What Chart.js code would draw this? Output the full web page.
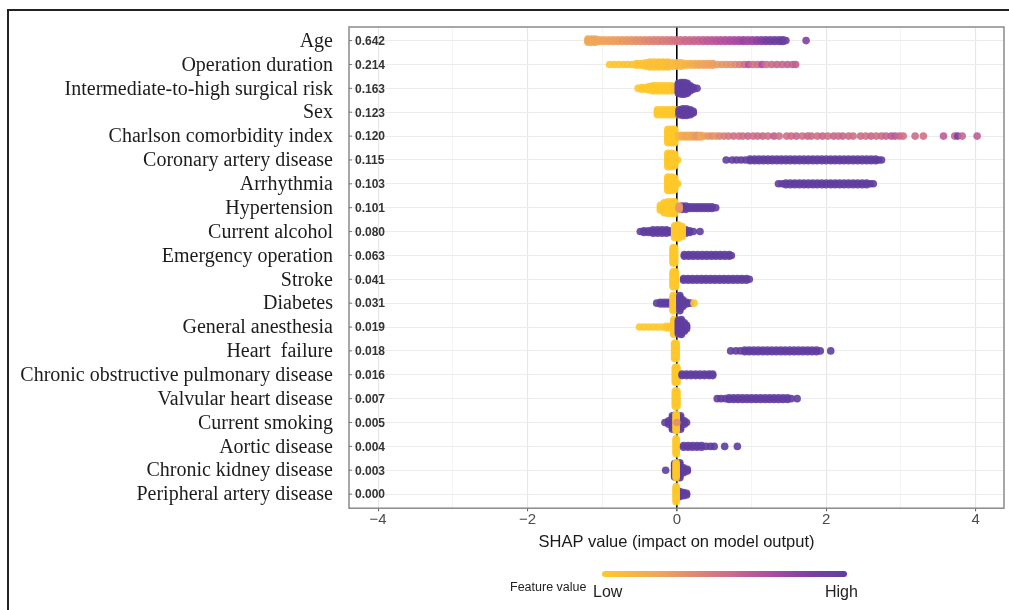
<!DOCTYPE html>
<html><head><meta charset="utf-8">
<script src="https://cdn.jsdelivr.net/npm/chart.js@4.4.1/dist/chart.umd.min.js"></script>
<style>
html,body{margin:0;padding:0;background:#fff;overflow:hidden}
#wrap{position:relative;width:1009px;height:610px;overflow:hidden}
#frame{position:absolute;left:7px;top:9px;width:1100px;height:700px;border-left:2px solid #222;border-top:2px solid #222;box-sizing:border-box}
canvas{position:absolute;left:0;top:0}
</style></head><body>
<div id="wrap"><div id="frame"></div><canvas id="c" width="1009" height="610" style="width:1009px;height:610px"></canvas></div>
<script>
// ---------- data ----------
const features = ["Age","Operation duration","Intermediate-to-high surgical risk","Sex","Charlson comorbidity index","Coronary artery disease","Arrhythmia","Hypertension","Current alcohol","Emergency operation","Stroke","Diabetes","General anesthesia","Heart  failure","Chronic obstructive pulmonary disease","Valvular heart disease","Current smoking","Aortic disease","Chronic kidney disease","Peripheral artery disease"];
const importance = ["0.642","0.214","0.163","0.123","0.120","0.115","0.103","0.101","0.080","0.063","0.041","0.031","0.019","0.018","0.016","0.007","0.005","0.004","0.003","0.000"];
const xTickValues = [-4,-3,-2,-1,0,1,2,3,4];
const xTitle = "SHAP value (impact on model output)";
const legendTitle = "Feature value", legendLow = "Low", legendHigh = "High";

// each entry: [SHAP value, number of overlapping samples, feature value (0 low .. 1 high)]
const swarmAge = [[-1.19,3,.22],[-1.14,3,.22],[-1.09,3,.23],[-1.03,2,.23],[-0.97,2,.24],[-0.91,2,.25],[-0.85,2,.26],[-0.79,2,.27],[-0.73,2,.28],[-0.67,2,.30],[-0.61,2,.31],[-0.55,2,.33],[-0.49,2,.34],[-0.43,2,.36],[-0.37,2,.38],[-0.31,2,.40],[-0.25,2,.41],[-0.19,2,.43],[-0.13,2,.44],[-0.07,2,.46],[-0.01,2,.48],[0.05,2,.50],[0.11,2,.52],[0.17,2,.53],[0.23,2,.55],[0.29,2,.56],[0.35,2,.58],[0.41,2,.60],[0.47,2,.61],[0.53,2,.63],[0.59,2,.65],[0.65,2,.66],[0.71,2,.68],[0.77,2,.70],[0.83,2,.72],[0.89,2,.78],[0.95,2,.74],[1.01,2,.76],[1.07,2,.80],[1.13,2,.84],[1.19,2,.90],[1.25,2,.93],[1.31,2,.95],[1.37,2,.96],[1.42,2,.97],[1.46,1,.95],[1.73,1,.85]];
const swarmOperation = [[-0.90,1,.02],[-0.84,1,.02],[-0.78,1,.02],[-0.72,1,.03],[-0.66,1,.03],[-0.60,1,.03],[-0.54,2,.03],[-0.48,2,.04],[-0.42,3,.04],[-0.36,4,.05],[-0.30,4,.05],[-0.24,4,.06],[-0.18,4,.06],[-0.12,4,.07],[-0.06,3,.08],[0.00,3,.09],[0.06,3,.11],[0.12,2,.13],[0.18,2,.16],[0.24,2,.19],[0.30,2,.22],[0.36,2,.24],[0.42,2,.25],[0.48,2,.27],[0.54,1,.28],[0.60,1,.30],[0.66,1,.31],[0.72,1,.33],[0.78,1,.36],[0.84,1,.42],[0.90,1,.50],[0.96,1,.66],[1.02,1,.48],[1.08,1,.50],[1.14,1,.68],[1.20,1,.50],[1.27,1,.52],[1.34,1,.55],[1.41,1,.55],[1.48,1,.57],[1.55,1,.57],[1.59,1,.58]];
const swarmSurgicalRisk = [[-0.52,1,0],[-0.47,2,0],[-0.42,2,0],[-0.37,3,0],[-0.32,4,0],[-0.27,4,0],[-0.22,4,0],[-0.17,4,0],[-0.12,4,0],[-0.07,4,0],[-0.03,3,.05],[0.02,7,1],[0.06,8,1],[0.10,8,1],[0.14,7,1],[0.18,4,1],[0.22,2,1],[0.27,1,1]];
const swarmSex = [[-0.26,4,0],[-0.21,4,0],[-0.16,4,0],[-0.11,4,0],[-0.06,4,0],[-0.02,4,0],[0.03,4,1],[0.08,5,1],[0.13,5,1],[0.18,4,1],[0.22,2,1]];
const swarmCharlson = [[-0.12,9,0],[-0.07,9,0],[-0.03,9,0],[0.02,2,.10],[0.07,2,.18],[0.12,2,.22],[0.17,2,.20],[0.22,2,.25],[0.27,2,.30],[0.32,2,.22],[0.37,1,.25],[0.42,1,.30],[0.47,1,.35],[0.52,1,.30],[0.57,1,.38],[0.63,1,.42],[0.69,1,.45],[0.76,1,.50],[0.83,1,.47],[0.88,1,.50],[0.95,1,.55],[1.02,1,.50],[1.08,1,.52],[1.15,1,.55],[1.22,1,.50],[1.30,1,.60],[1.37,1,.50],[1.47,1,.50],[1.53,1,.52],[1.60,1,.55],[1.68,1,.50],[1.75,1,.55],[1.80,1,.52],[1.88,1,.50],[1.95,1,.55],[2.02,1,.50],[2.10,1,.55],[2.16,1,.50],[2.22,1,.55],[2.30,1,.52],[2.36,1,.50],[2.46,1,.52],[2.53,1,.50],[2.60,1,.55],[2.67,1,.50],[2.74,1,.52],[2.80,1,.55],[2.87,1,.60],[2.92,1,.62],[2.98,1,.55],[3.03,1,.50],[3.19,1,.52],[3.30,1,.50],[3.57,1,.60],[3.72,1,.55],[3.76,1,.85],[3.82,1,.55],[4.02,1,.60]];
const swarmCAD = [[-0.12,9,0],[-0.07,9,0],[-0.03,8,0],[0.01,1,0],[0.66,1,1],[0.74,1,1],[0.80,1,1],[0.86,1,1],[0.92,1,1],[0.98,2,1],[1.04,2,1],[1.10,2,1],[1.16,2,1],[1.22,2,1],[1.28,2,1],[1.34,2,1],[1.40,2,1],[1.46,2,1],[1.52,2,1],[1.58,2,1],[1.64,2,1],[1.70,2,1],[1.76,2,1],[1.82,2,1],[1.88,2,1],[1.94,2,1],[2.00,2,1],[2.06,2,1],[2.12,2,1],[2.18,2,1],[2.24,2,1],[2.30,2,1],[2.36,2,1],[2.42,2,1],[2.48,2,1],[2.54,2,1],[2.60,2,1],[2.66,2,1],[2.70,1,1],[2.74,1,1]];
const swarmArrhythmia = [[-0.12,9,0],[-0.07,9,0],[-0.03,8,0],[0.01,1,0],[1.36,1,1],[1.41,1,1],[1.46,2,1],[1.52,2,1],[1.58,2,1],[1.64,2,1],[1.70,2,1],[1.76,2,1],[1.82,2,1],[1.88,2,1],[1.94,2,1],[2.00,2,1],[2.06,2,1],[2.12,2,1],[2.18,2,1],[2.24,2,1],[2.30,2,1],[2.36,2,1],[2.42,2,1],[2.48,2,1],[2.54,2,1],[2.59,1,1],[2.63,1,1]];
const swarmHypertension = [[-0.22,4,0],[-0.17,7,0],[-0.12,8,0],[-0.07,8,0],[-0.03,8,0],[0.07,3,1],[0.12,3,1],[0.17,2,1],[0.22,2,1],[0.27,2,1],[0.32,2,1],[0.37,2,1],[0.42,2,1],[0.47,2,1],[0.52,1,1],[0.03,3,.30]];
const swarmAlcohol = [[-0.49,1,1],[-0.44,2,1],[-0.38,2,1],[-0.32,3,1],[-0.26,3,1],[-0.20,3,1],[-0.14,3,1],[-0.09,2,1],[0.12,3,1],[0.17,2,1],[0.22,1,1],[0.31,1,1],[-0.03,8,0],[0.02,9,0],[0.07,7,0]];
const swarmEmergency = [[-0.05,10,0],[-0.03,10,0],[0.10,2,1],[0.16,2,1],[0.22,2,1],[0.28,2,1],[0.34,2,1],[0.40,2,1],[0.46,2,1],[0.52,2,1],[0.58,2,1],[0.64,2,1],[0.70,2,1],[0.73,1,1]];
const swarmStroke = [[-0.05,10,0],[-0.02,10,0],[0.09,2,1],[0.15,2,1],[0.21,2,1],[0.27,2,1],[0.33,2,1],[0.39,2,1],[0.45,2,1],[0.51,2,1],[0.57,2,1],[0.63,2,1],[0.69,2,1],[0.75,2,1],[0.81,2,1],[0.87,2,1],[0.93,2,1],[0.97,1,1]];
const swarmDiabetes = [[-0.27,1,1],[-0.22,2,1],[-0.17,2,1],[-0.12,2,1],[-0.07,2,1],[-0.05,10,0],[-0.02,9,0],[0.04,10,1],[0.08,5,1],[0.13,2,1],[0.18,1,1],[0.23,1,0]];
const swarmAnesthesia = [[-0.50,1,0],[-0.44,1,0],[-0.38,1,0],[-0.32,1,0],[-0.26,1,0],[-0.20,1,0],[-0.14,2,0],[-0.09,2,0],[-0.04,10,0],[0.02,9,1],[0.06,10,1],[0.10,6,1],[0.13,3,1]];
const swarmHeartFailure = [[-0.03,10,0],[-0.01,10,0],[0.72,1,1],[0.79,1,1],[0.85,1,1],[0.91,2,1],[0.97,2,1],[1.03,2,1],[1.09,2,1],[1.15,2,1],[1.21,2,1],[1.27,2,1],[1.33,2,1],[1.39,2,1],[1.45,2,1],[1.51,2,1],[1.57,2,1],[1.63,2,1],[1.69,2,1],[1.75,2,1],[1.81,2,1],[1.87,2,1],[1.92,1,1],[2.06,1,1]];
const swarmCOPD = [[-0.02,10,0],[0.00,10,0],[0.07,2,1],[0.13,2,1],[0.19,2,1],[0.25,2,1],[0.31,2,1],[0.37,2,1],[0.43,2,1],[0.48,2,1]];
const swarmValvular = [[-0.02,10,0],[0.00,10,0],[0.54,1,1],[0.59,1,1],[0.65,1,1],[0.70,2,1],[0.76,2,1],[0.82,2,1],[0.88,2,1],[0.94,2,1],[1.00,2,1],[1.06,2,1],[1.12,2,1],[1.18,2,1],[1.24,2,1],[1.30,2,1],[1.36,2,1],[1.42,2,1],[1.48,2,1],[1.53,1,1],[1.61,1,1]];
const swarmSmoking = [[-0.16,1,1],[-0.11,3,1],[-0.06,9,1],[0.05,9,1],[0.10,3,1],[0.13,1,1],[-0.01,11,0],[0.00,1,.35]];
const swarmAortic = [[-0.01,10,0],[0.09,2,1],[0.15,2,1],[0.21,2,1],[0.27,2,1],[0.33,2,1],[0.39,1,1],[0.45,1,1],[0.50,1,1],[0.64,1,1],[0.81,1,1]];
const swarmCKD = [[-0.15,1,1],[-0.03,9,1],[0.04,10,1],[0.09,4,1],[0.14,2,1],[-0.01,10,0]];
const swarmPAD = [[0.04,4,1],[0.09,3,1],[0.13,2,1],[-0.01,10,0]];

const swarms = [swarmAge,swarmOperation,swarmSurgicalRisk,swarmSex,swarmCharlson,swarmCAD,swarmArrhythmia,swarmHypertension,swarmAlcohol,swarmEmergency,swarmStroke,swarmDiabetes,swarmAnesthesia,swarmHeartFailure,swarmCOPD,swarmValvular,swarmSmoking,swarmAortic,swarmCKD,swarmPAD];

// ---------- styling ----------
const stops = [[0,[255,200,42]],[0.25,[238,162,92]],[0.5,[208,112,134]],[0.68,[176,78,160]],[0.85,[128,64,162]],[1,[96,62,160]]];
function cmap(v, a){
  for (let i=1;i<stops.length;i++){
    if (v<=stops[i][0]){
      const [t0,c0]=stops[i-1],[t1,c1]=stops[i];
      const f=(v-t0)/(t1-t0);
      const c=c0.map((x,k)=>Math.round(x+(c1[k]-x)*f));
      return `rgba(${c[0]},${c[1]},${c[2]},${a})`;
    }
  }
  const c=stops[stops.length-1][1];
  return `rgba(${c[0]},${c[1]},${c[2]},${a})`;
}
const STACK_GAP = 0.07; // vertical spacing of overlapping samples (row units)

const points=[], colors=[];
swarms.forEach((sw,row)=>{
  sw.forEach(([x,n,v])=>{
    for(let k=0;k<n;k++){
      points.push({x:x, y:row+(k-(n-1)/2)*STACK_GAP});
      colors.push(cmap(v,0.9));
    }
  });
});

const labelPlugin = {
  id:'labels',
  afterDraw(chart){
    const ctx=chart.ctx, ca=chart.chartArea, ys=chart.scales.y;
    ctx.save();
    ctx.strokeStyle='#8a8a8a'; ctx.lineWidth=1.5;
    ctx.strokeRect(ca.left, ca.top, ca.right-ca.left, ca.bottom-ca.top);
    features.forEach((f,i)=>{
      const py=ys.getPixelForValue(i);
      ctx.strokeStyle='#777'; ctx.lineWidth=1;
      ctx.beginPath(); ctx.moveTo(ca.left,py); ctx.lineTo(ca.left+3,py); ctx.stroke();
      ctx.fillStyle='#1c1c1c'; ctx.font='20px "Liberation Serif"';
      ctx.textAlign='right'; ctx.textBaseline='middle';
      ctx.fillText(f, 333, py+1);
      ctx.fillStyle='#333'; ctx.font='bold 12px "Liberation Sans"';
      ctx.textAlign='left';
      ctx.fillText(importance[i], 355, py+1);
    });
    // colour bar legend
    const x0=605,x1=844,yb=574;
    const g=ctx.createLinearGradient(x0,0,x1,0);
    for(let t=0;t<=1.0001;t+=0.05) g.addColorStop(Math.min(t,1), cmap(Math.min(t,1),1));
    ctx.strokeStyle=g; ctx.lineWidth=6; ctx.lineCap='round';
    ctx.beginPath(); ctx.moveTo(x0,yb); ctx.lineTo(x1,yb); ctx.stroke();
    ctx.fillStyle='#222'; ctx.textBaseline='alphabetic'; ctx.textAlign='left';
    ctx.font='12.5px "Liberation Sans"'; ctx.fillText(legendTitle, 510, 591);
    ctx.font='16px "Liberation Sans"';
    ctx.fillText(legendLow, 593, 597);
    ctx.fillText(legendHigh, 825, 597);
    ctx.restore();
  }
};

new Chart(document.getElementById('c'), {
  type:'scatter',
  data:{datasets:[{data:points, backgroundColor:colors, pointRadius:3.8, pointHoverRadius:3.8, borderWidth:0}]},
  options:{
    responsive:false, animation:false, devicePixelRatio:1, events:[],
    layout:{padding:{left:349, right:5, top:27, bottom:58}},
    plugins:{legend:{display:false}, tooltip:{enabled:false}},
    scales:{
      x:{
        min:-4.39, max:4.38,
        afterBuildTicks(s){ s.ticks = xTickValues.map(v=>({value:v})); },
        border:{display:false},
        grid:{
          color:c=>c.tick&&c.tick.value===0?'#000':(Math.abs(c.tick?c.tick.value:0)%2===1?'#f1f1f1':'#e6e6e6'),
          lineWidth:c=>c.tick&&c.tick.value===0?1.6:(Math.abs(c.tick?c.tick.value:0)%2===1?0.8:1.1),
          tickColor:c=>Math.abs(c.tick.value)%2===1?'rgba(0,0,0,0)':'#666',
          tickLength:3, drawTicks:true
        },
        ticks:{
          padding:0, color:'#4d4d4d', font:{family:'"Liberation Sans"', size:15},
          maxRotation:0, autoSkip:false,
          callback:v=>(Math.abs(v)%2===1)?'':(v<0?'\u2212'+Math.abs(v):String(v))
        },
        title:{display:true, text:xTitle, color:'#1a1a1a', font:{family:'"Liberation Sans"', size:16.5}, padding:{top:3,bottom:0}}
      },
      y:{
        min:-0.57, max:19.59, reverse:true,
        afterBuildTicks(s){ s.ticks = features.map((_,i)=>({value:i})); },
        afterFit(s){ s.width=0; },
        border:{display:false},
        grid:{color:'#ececec', lineWidth:1, drawTicks:false},
        ticks:{display:false}
      }
    }
  },
  plugins:[labelPlugin]
});
</script>
</body></html>
